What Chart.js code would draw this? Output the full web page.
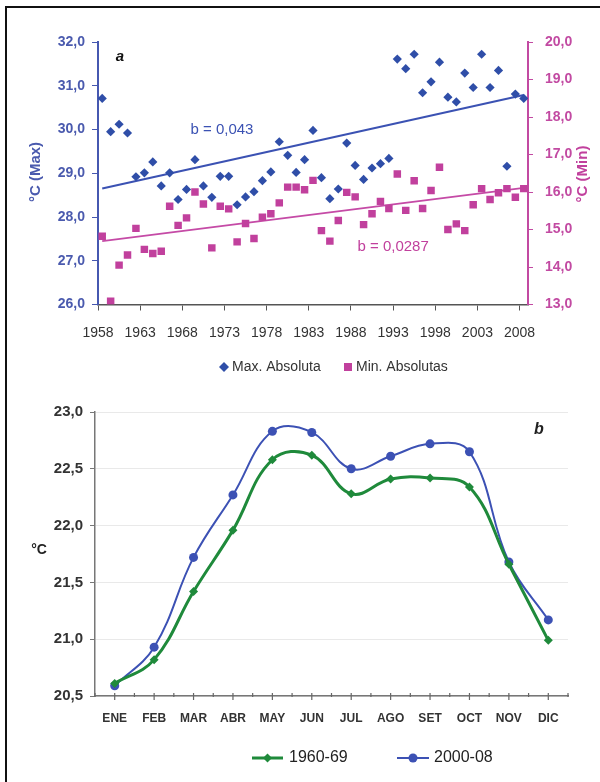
<!DOCTYPE html>
<html>
<head>
<meta charset="utf-8">
<script src="https://cdn.jsdelivr.net/npm/chart.js@4.4.0/dist/chart.umd.min.js"></script>
<style>
html, body { margin: 0; padding: 0; background: #fff; }
#wrap { position: relative; width: 600px; height: 782px; overflow: hidden; }
#frame { position: absolute; left: 5px; top: 6px; width: 620px; height: 800px; border-left: 2px solid #111; border-top: 2px solid #111; }
#c1 { position: absolute; left: 0; top: 0; }
#c2 { position: absolute; left: 0; top: 390px; }
</style>
</head>
<body>
<div id="wrap">
  <div id="frame"></div>
  <canvas id="c1" width="600" height="390"></canvas>
  <canvas id="c2" width="600" height="392"></canvas>
</div>
<script>
// --- chart a: absolute max / min per year ---
const years = [1958, 1959, 1960, 1961, 1962, 1963, 1964, 1965, 1966, 1967,
               1968, 1969, 1970, 1971, 1972, 1973, 1974, 1975, 1976, 1977,
               1978, 1979, 1980, 1981, 1982, 1983, 1984, 1985, 1986, 1987,
               1988, 1989, 1990, 1991, 1992, 1993, 1994, 1995, 1996, 1997,
               1998, 1999, 2000, 2001, 2002, 2003, 2004, 2005, 2006, 2007, 2008];
const maxAbs = [30.71, 29.95, 30.12, 29.92, 28.92, 29.01, 29.26, 28.71, 29.01, 28.40,
                28.63, 29.31, 28.71, 28.45, 28.93, 28.93, 28.28, 28.46, 28.58, 28.83,
                29.03, 29.72, 29.41, 29.02, 29.31, 29.98, 28.90, 28.42, 28.64, 29.69,
                29.18, 28.86, 29.12, 29.22, 29.34, 31.61, 31.39, 31.72, 30.84, 31.09,
                31.54, 30.74, 30.63, 31.29, 30.96, 31.72, 30.96, 31.35, 29.16, 30.81, 30.71];
const minAbs = [14.82, 13.09, 14.05, 14.32, 15.03, 14.47, 14.36, 14.42, 15.62, 15.11,
                15.31, 16.00, 15.68, 14.51, 15.62, 15.55, 14.67, 15.16, 14.76, 15.33,
                15.42, 15.71, 16.13, 16.13, 16.06, 16.31, 14.97, 14.69, 15.24, 15.99,
                15.87, 15.13, 15.42, 15.75, 15.56, 16.48, 15.51, 16.30, 15.56, 16.04,
                16.66, 15.00, 15.15, 14.97, 15.66, 16.09, 15.80, 15.98, 16.09, 15.86, 16.09];
// trend lines (ends)
const trendYears = [1958, 2008];
const trendMax = [28.65, 30.79];
const trendMin = [14.69, 16.11];
const yearTicks = [1958, 1963, 1968, 1973, 1978, 1983, 1988, 1993, 1998, 2003, 2008];

// --- chart b: monthly mean ---
const months = ['ENE', 'FEB', 'MAR', 'ABR', 'MAY', 'JUN', 'JUL', 'AGO', 'SET', 'OCT', 'NOV', 'DIC'];
const mean6069 = [20.61, 20.82, 21.42, 21.96, 22.58, 22.62, 22.28, 22.41, 22.42, 22.34, 21.66, 20.99];
const mean0008 = [20.59, 20.93, 21.72, 22.27, 22.83, 22.82, 22.50, 22.61, 22.72, 22.65, 21.68, 21.17];

const FONT = '"Liberation Sans", Arial, sans-serif';
const BLUE = '#2f4ea8';
const BLUE_TXT = '#4a5aae';
const PINK = '#c1409d';
const GREEN = '#1f8a3b';
const BLUE2 = '#3c51b4';

const comma = v => v.toFixed(1).replace('.', ',');

function diamond(ctx, x, y, r) {
    ctx.beginPath();
    ctx.moveTo(x, y - r); ctx.lineTo(x + r, y); ctx.lineTo(x, y + r); ctx.lineTo(x - r, y);
    ctx.closePath();
    ctx.fill();
}

// texts, titles and legend of chart a
const textA = {
    id: 'textA',
    afterDraw(chart) {
        const { ctx, scales } = chart;
        const x = scales.x, yMax = scales.yMax, yMin = scales.yMin;
        ctx.save();
        ctx.textAlign = 'center';
        ctx.textBaseline = 'middle';
        ctx.fillStyle = '#111';
        ctx.font = 'italic bold 15px ' + FONT;
        ctx.fillText('a', x.getPixelForValue(1960.1), yMax.getPixelForValue(31.65));
        ctx.font = '15px ' + FONT;
        ctx.fillStyle = '#3b52b3';
        ctx.fillText('b = 0,043', x.getPixelForValue(1972.2), yMax.getPixelForValue(30.0));
        ctx.fillStyle = PINK;
        ctx.fillText('b = 0,0287', x.getPixelForValue(1992.5), yMin.getPixelForValue(14.55));

        // axis titles, both read bottom to top
        ctx.font = 'bold 15px ' + FONT;
        ctx.save();
        ctx.translate(36, 172); ctx.rotate(-Math.PI / 2);
        ctx.fillStyle = BLUE_TXT;
        ctx.fillText('°C (Max)', 0, 0);
        ctx.restore();
        ctx.save();
        ctx.translate(583, 174); ctx.rotate(-Math.PI / 2);
        ctx.fillStyle = PINK;
        ctx.fillText('°C (Min)', 0, 0);
        ctx.restore();

        // legend
        ctx.textAlign = 'left';
        ctx.font = '14px ' + FONT;
        ctx.fillStyle = BLUE;
        diamond(ctx, 224, 367, 5);
        ctx.fillStyle = PINK;
        ctx.fillRect(344, 363, 8, 8);
        ctx.fillStyle = '#333';
        ctx.fillText('Max. Absoluta', 232, 367);
        ctx.fillText('Min. Absolutas', 356, 367);
        ctx.restore();
    }
};

new Chart(document.getElementById('c1'), {
    type: 'scatter',
    data: {
        datasets: [
            {
                label: 'Max. Absoluta',
                data: years.map((y, i) => ({ x: y, y: maxAbs[i] })),
                yAxisID: 'yMax',
                pointStyle: 'rectRot',
                pointRadius: 4.6,
                pointBackgroundColor: BLUE,
                pointBorderWidth: 0
            },
            {
                label: 'Min. Absolutas',
                data: years.map((y, i) => ({ x: y, y: minAbs[i] })),
                yAxisID: 'yMin',
                pointStyle: 'rect',
                pointRadius: 5.3,
                pointBackgroundColor: PINK,
                pointBorderWidth: 0
            },
            {
                label: 'trend max',
                type: 'line',
                data: trendYears.map((y, i) => ({ x: y, y: trendMax[i] })),
                yAxisID: 'yMax',
                borderColor: '#3b52b3',
                borderWidth: 2,
                pointRadius: 0,
                fill: false
            },
            {
                label: 'trend min',
                type: 'line',
                data: trendYears.map((y, i) => ({ x: y, y: trendMin[i] })),
                yAxisID: 'yMin',
                borderColor: '#c54aa6',
                borderWidth: 2,
                pointRadius: 0,
                fill: false
            }
        ]
    },
    options: {
        responsive: false,
        animation: false,
        layout: { padding: { top: 42, left: 0, right: 0, bottom: 0 } },
        plugins: { legend: { display: false }, tooltip: { enabled: false } },
        scales: {
            x: {
                type: 'linear',
                min: 1957.5,
                max: 2008.5,
                afterBuildTicks: s => { s.ticks = yearTicks.map(v => ({ value: v - 0.5 })); },
                afterFit: s => { s.height = 85.5; },
                ticks: {
                    callback: v => String(Math.round(v + 0.5)),
                    color: '#333',
                    font: { family: FONT, size: 14 },
                    padding: 14,
                    maxRotation: 0,
                    autoSkip: false
                },
                grid: { drawOnChartArea: false, tickLength: 6, color: '#555' },
                border: { color: '#555', width: 1.5 }
            },
            yMax: {
                position: 'left',
                min: 26,
                max: 32,
                afterFit: s => { s.width = 98; },
                ticks: {
                    stepSize: 1,
                    callback: v => comma(v),
                    color: BLUE_TXT,
                    font: { family: FONT, size: 14, weight: 'bold' },
                    padding: 7
                },
                grid: { drawOnChartArea: false, tickLength: 6, color: '#4658b0' },
                border: { color: '#4658b0', width: 2 }
            },
            yMin: {
                position: 'right',
                min: 13,
                max: 20,
                afterFit: s => { s.width = 72; },
                ticks: {
                    stepSize: 1,
                    callback: v => comma(v),
                    color: '#c24aa2',
                    font: { family: FONT, size: 14, weight: 'bold' },
                    padding: 12
                },
                grid: { drawOnChartArea: false, tickLength: 5, color: '#c24aa2' },
                border: { color: '#c24aa2', width: 2 }
            }
        }
    },
    plugins: [textA]
});

// ticks, texts and legend of chart b
const textB = {
    id: 'textB',
    afterDraw(chart) {
        const { ctx, scales, chartArea } = chart;
        const x = scales.x;
        const half = (x.getPixelForValue(1) - x.getPixelForValue(0)) / 2;
        const yb = chartArea.bottom;
        ctx.save();
        ctx.strokeStyle = '#666';
        ctx.lineWidth = 1.2;
        ctx.beginPath();
        for (let i = 0; i < months.length; i++) {
            const c = x.getPixelForValue(i);
            ctx.moveTo(c, yb - 3); ctx.lineTo(c, yb + 4);
            ctx.moveTo(c - half, yb - 3); ctx.lineTo(c - half, yb + 1);
        }
        const last = x.getPixelForValue(months.length - 1) + half;
        ctx.moveTo(last, yb - 3); ctx.lineTo(last, yb + 1);
        ctx.stroke();

        ctx.textAlign = 'center';
        ctx.textBaseline = 'middle';
        ctx.fillStyle = '#222';
        ctx.font = 'bold 14px ' + FONT;
        ctx.fillText('°C', 39, 160);
        ctx.font = 'italic bold 16px ' + FONT;
        ctx.fillText('b', 539, 40);

        // legend
        const ly = 368;
        ctx.lineWidth = 3;
        ctx.strokeStyle = GREEN;
        ctx.beginPath(); ctx.moveTo(252, ly); ctx.lineTo(283, ly); ctx.stroke();
        ctx.fillStyle = GREEN;
        diamond(ctx, 267.5, ly, 4.5);
        ctx.lineWidth = 2;
        ctx.strokeStyle = BLUE2;
        ctx.beginPath(); ctx.moveTo(397, ly); ctx.lineTo(429, ly); ctx.stroke();
        ctx.fillStyle = BLUE2;
        ctx.beginPath(); ctx.arc(413, ly, 4.5, 0, Math.PI * 2); ctx.fill();
        ctx.textAlign = 'left';
        ctx.fillStyle = '#222';
        ctx.font = '16px ' + FONT;
        ctx.fillText('1960-69', 289, ly);
        ctx.fillText('2000-08', 434, ly);
        ctx.restore();
    }
};

new Chart(document.getElementById('c2'), {
    type: 'line',
    data: {
        labels: months,
        datasets: [
            {
                label: '1960-69',
                data: mean6069,
                borderColor: GREEN,
                backgroundColor: GREEN,
                borderWidth: 3,
                pointStyle: 'rectRot',
                pointRadius: 4.5,
                pointBorderWidth: 0,
                tension: 0.4
            },
            {
                label: '2000-08',
                data: mean0008,
                borderColor: BLUE2,
                backgroundColor: BLUE2,
                borderWidth: 2,
                pointStyle: 'circle',
                pointRadius: 4.5,
                pointBorderWidth: 0,
                tension: 0.4
            }
        ]
    },
    options: {
        responsive: false,
        animation: false,
        layout: { padding: { top: 22, left: 0, right: 32, bottom: 0 } },
        plugins: { legend: { display: false }, tooltip: { enabled: false } },
        scales: {
            x: {
                offset: true,
                afterFit: s => { s.height = 86; },
                ticks: {
                    color: '#333',
                    font: { family: FONT, size: 12, weight: 'bold' },
                    padding: 15,
                    maxRotation: 0,
                    autoSkip: false
                },
                grid: { drawOnChartArea: false, drawTicks: false },
                border: { color: '#777', width: 1.5 }
            },
            y: {
                min: 20.5,
                max: 23,
                afterFit: s => { s.width = 95; },
                ticks: {
                    stepSize: 0.5,
                    callback: v => comma(v),
                    color: '#333',
                    font: { family: FONT, size: 15, weight: 'bold' },
                    padding: 7
                },
                grid: { color: '#e9e9e9', tickColor: '#777', tickLength: 5 },
                border: { color: '#777', width: 1.5 }
            }
        }
    },
    plugins: [textB]
});
</script>
</body>
</html>
